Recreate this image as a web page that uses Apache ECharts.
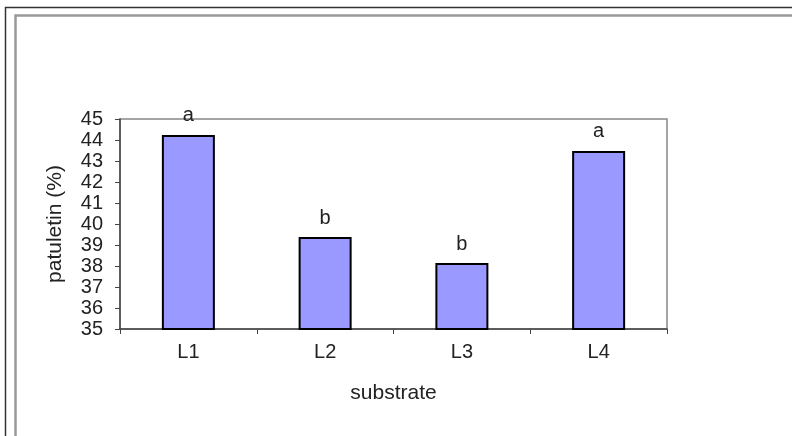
<!DOCTYPE html>
<html><head><meta charset="utf-8">
<script src="https://cdn.jsdelivr.net/npm/echarts@6/dist/echarts.min.js"></script>
<style>html,body{margin:0;padding:0;background:#fff}#c{width:792px;height:436px}</style>
</head><body><div id="c"></div>
<script>
const categories = ['L1', 'L2', 'L3', 'L4'];
const values = [44.24, 39.38, 38.14, 43.48];
const letters = ['a', 'b', 'b', 'a'];
const yTicks = [35, 36, 37, 38, 39, 40, 41, 42, 43, 44, 45];

const chart = echarts.init(document.getElementById('c'), null, {renderer: 'canvas'});
const font = 'Liberation Sans, Arial, sans-serif';
chart.setOption({
  animation: false,
  backgroundColor: '#fff',
  graphic: [
    {type: 'polyline', shape: {points: [[5.5, 440], [5.5, 7.5], [800, 7.5]]}, style: {stroke: '#333', lineWidth: 1.5, fill: null}},
    {type: 'polyline', shape: {points: [[15.5, 440], [15.5, 15.5], [800, 15.5]]}, style: {stroke: '#999', lineWidth: 2.5, fill: null}}
  ],
  grid: {left: 120, top: 119, right: 125, bottom: 107, show: true, borderColor: '#888', borderWidth: 1.5, backgroundColor: 'transparent'},
  xAxis: {
    type: 'category', data: categories,
    name: 'substrate', nameLocation: 'middle', nameGap: 54,
    nameTextStyle: {fontFamily: font, fontSize: 21, color: '#222'},
    axisLine: {lineStyle: {color: '#444', width: 1.5}},
    axisTick: {show: true, alignWithLabel: false, length: 5, lineStyle: {color: '#444'}},
    axisLabel: {fontFamily: font, fontSize: 20, color: '#222', margin: 13}
  },
  yAxis: {
    type: 'value', min: yTicks[0], max: yTicks[yTicks.length - 1], interval: 1,
    name: 'patuletin (%)', nameLocation: 'middle', nameGap: 54, nameRotate: 90,
    nameTextStyle: {fontFamily: font, fontSize: 21, color: '#222'},
    axisLine: {show: true, lineStyle: {color: '#444', width: 1.5}},
    axisTick: {show: true, length: 5, lineStyle: {color: '#444'}},
    splitLine: {show: false},
    axisLabel: {fontFamily: font, fontSize: 20, color: '#222', margin: 17}
  },
  series: [{
    type: 'bar', barWidth: 53,
    data: values.map((v, i) => ({value: v, label: {formatter: letters[i]}})),
    itemStyle: {color: '#9999ff', borderColor: '#000', borderWidth: 2},
    label: {show: true, position: 'top', distance: 9, fontFamily: font, fontSize: 20, color: '#222'}
  }]
});
</script></body></html>
